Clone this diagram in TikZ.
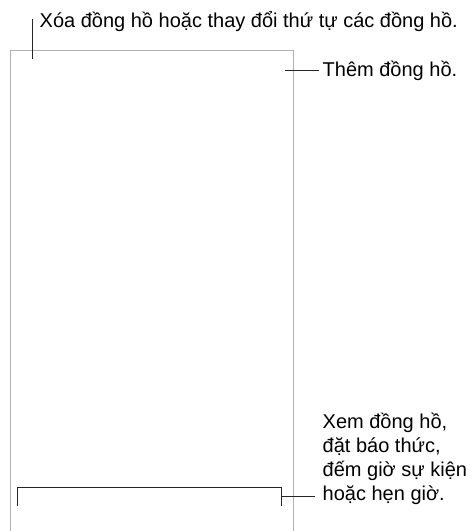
\documentclass[tikz,border=0pt]{standalone}
\usepackage{fontspec}
\setmainfont{Liberation Sans}
\begin{document}
\begin{tikzpicture}[x=1pt,y=1pt,
  frame/.style={draw=black!30, line width=0.9pt},
  callout/.style={draw=black!85, line width=1pt},
  label/.style={font=\fontsize{20}{24}\selectfont, inner sep=0pt, anchor=base west, text=black}]
\useasboundingbox (0,0) rectangle (474,-531);
% phone outline (open at bottom)
\draw[frame] (10,-531) -- (10,-50) -- (293,-50) -- (293,-531);
% top-left callout
\node[label] (edit) at (39.5,-27) {Xóa đồng hồ hoặc thay đổi thứ tự các đồng hồ.};
\coordinate (editTop) at (32,-19);
\coordinate (editBot) at (32,-59);
\draw[callout] (editTop) -- (editBot);
% add clock callout
\node[label] (add) at (322.5,-76.5) {Thêm đồng hồ.};
\coordinate (addL) at (285,-70);
\coordinate (addR) at (319,-70);
\draw[callout] (addL) -- (addR);
% bottom bracket
\coordinate (bl) at (17,-506);
\coordinate (br) at (281,-506);
\draw[callout] (bl) -- ++(0,19) -| (br);
\node[label, align=left, anchor=base west] (tabs) at (322.5,-500.5)
  {Xem đồng hồ,\\đặt báo thức,\\đếm giờ sự kiện\\hoặc hẹn giờ.};
\coordinate (brm) at (281,-496);
\coordinate (tabsL) at (315,-496);
\draw[callout] (brm) -- (tabsL);
\end{tikzpicture}
\end{document}
